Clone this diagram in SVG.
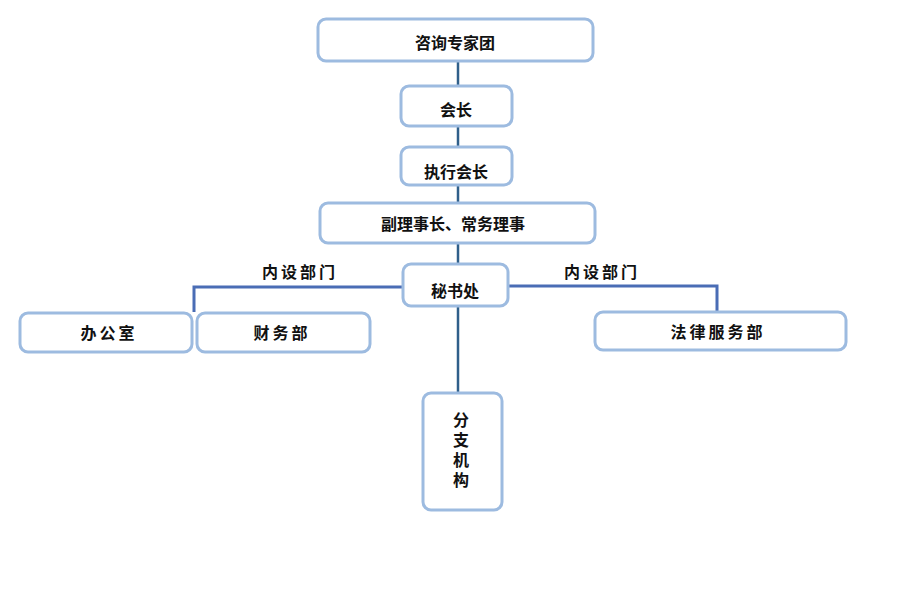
<svg xmlns="http://www.w3.org/2000/svg" width="900" height="610" viewBox="0 0 900 610">
<style>
.box{fill:#fff;stroke:#9dbbe0;stroke-width:3}
.t{font-family:"Noto Sans CJK SC","Noto Sans",sans-serif;font-size:16px;font-weight:bold;fill:#111;text-anchor:middle;dominant-baseline:central}
.sp{letter-spacing:3px}
.vt{writing-mode:vertical-rl;letter-spacing:4px}
.vl{stroke:#2f5f8a;stroke-width:2.5;fill:none}
.hl{stroke:#4a6db5;stroke-width:3;fill:none}
</style>
<rect width="900" height="610" fill="#fff"/>
<g id="connectors">
<line class="vl" x1="458" y1="62" x2="458" y2="86"/>
<line class="vl" x1="458" y1="126" x2="458" y2="147"/>
<line class="vl" x1="458" y1="185" x2="458" y2="203"/>
<line class="vl" x1="458" y1="243" x2="458" y2="264"/>
<line class="vl" x1="458" y1="306" x2="458" y2="393"/>
<polyline class="hl" points="403,287 194,287 194,312"/>
<polyline class="hl" points="508,286 717,286 717,311"/>
</g>
<g id="n1"><rect class="box" x="318" y="19" width="275" height="42" rx="8"/><text class="t" x="455" y="42">咨询专家团</text></g>
<g id="n2"><rect class="box" x="401" y="86" width="111" height="40" rx="8"/><text class="t" x="456" y="109">会长</text></g>
<g id="n3"><rect class="box" x="401" y="147" width="111" height="38" rx="8"/><text class="t" x="456" y="171">执行会长</text></g>
<g id="n4"><rect class="box" x="320" y="203" width="275" height="40" rx="8"/><text class="t" x="453" y="223">副理事长、常务理事</text></g>
<g id="n5"><rect class="box" x="403" y="264" width="105" height="42" rx="8"/><text class="t" x="455" y="290">秘书处</text></g>
<g id="l1"><text class="t sp" x="300" y="271">内设部门</text></g>
<g id="l2"><text class="t sp" x="602" y="271">内设部门</text></g>
<g id="n6"><rect class="box" x="20" y="313" width="172" height="39" rx="8"/><text class="t sp" x="109" y="332">办公室</text></g>
<g id="n7"><rect class="box" x="197" y="313" width="173" height="39" rx="8"/><text class="t sp" x="282" y="332">财务部</text></g>
<g id="n8"><rect class="box" x="595" y="312" width="251" height="38" rx="8"/><text class="t sp" x="718" y="331">法律服务部</text></g>
<g id="n9"><rect class="box" x="423" y="393" width="79" height="117" rx="8"/>
<text class="t vt" x="461" y="452">分支机构</text></g>
</svg>
